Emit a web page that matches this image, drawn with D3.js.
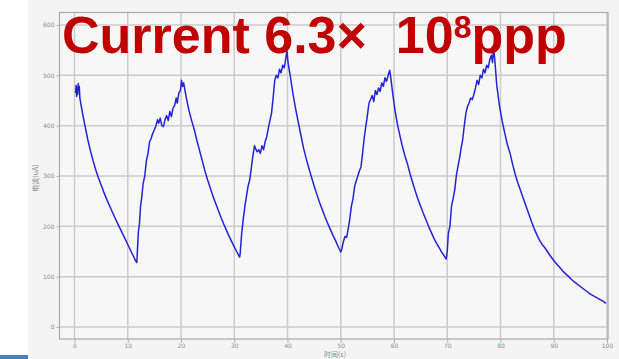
<!DOCTYPE html>
<html>
<head>
<meta charset="utf-8">
<script src="https://cdn.jsdelivr.net/npm/d3@7"></script>
<style>
  html, body { margin: 0; padding: 0; background: #ffffff; }
  svg { display: block; }
</style>
</head>
<body>
<svg id="chart" width="619" height="359"></svg>
<script>
// Axis ticks
const xTicks = [0, 10, 20, 30, 40, 50, 60, 70, 80, 90, 100];
const yTicks = [0, 100, 200, 300, 400, 500, 600];

// Recorded current trace: time (s) and current (uA)
const timeS = [
  0.2, 0.3, 0.4, 0.5, 0.6, 0.7, 0.8, 0.9,
  1.0, 1.5, 2.0, 2.5, 3.0, 3.5, 4.0, 4.5, 5.0, 5.5, 6.0, 6.5, 7.0, 7.5, 8.0, 8.5, 9.0, 9.5, 10.0, 10.5, 11.0, 11.5, 11.7,
  12.0, 12.2, 12.4, 12.6, 12.9, 13.2, 13.5, 13.8, 14.1, 14.4, 14.7, 15.0, 15.3, 15.6, 15.8, 16.1, 16.4, 16.7, 17.0, 17.3, 17.6, 17.9, 18.2, 18.5, 18.8, 19.1, 19.3, 19.6, 19.9, 20.1, 20.3, 20.5,
  21.0, 21.5, 22.0, 22.5, 23.0, 23.5, 24.0, 24.5, 25.0, 25.5, 26.0, 26.5, 27.0, 27.5, 28.0, 28.5, 29.0, 29.5, 30.0, 30.5, 31.0,
  31.1, 31.4, 31.7, 32.0, 32.3, 32.6, 32.9, 33.2, 33.5, 33.8, 34.0, 34.3, 34.6, 34.9, 35.2, 35.5, 35.8, 36.1, 36.4, 36.7, 37.0, 37.3, 37.6, 37.9, 38.2, 38.5, 38.8, 39.1, 39.4, 39.7, 39.9, 40.1,
  40.5, 41.0, 41.5, 42.0, 42.5, 43.0, 43.5, 44.0, 44.5, 45.0, 45.5, 46.0, 46.5, 47.0, 47.5, 48.0, 48.5, 49.0, 49.5, 50.0,
  50.2, 50.5, 50.8, 51.1, 51.4, 51.7, 52.0, 52.3, 52.6, 52.9, 53.2, 53.5, 53.8, 54.1, 54.4, 54.7, 55.0, 55.3, 55.6, 55.9, 56.2, 56.5, 56.8, 57.1, 57.4, 57.7, 58.0, 58.3, 58.6, 58.9, 59.2, 59.4,
  59.8, 60.2, 60.6, 61.0, 61.5, 62.0, 62.5, 63.0, 63.5, 64.0, 64.5, 65.0, 65.5, 66.0, 66.5, 67.0, 67.5, 68.0, 68.5, 69.0, 69.5, 69.8,
  70.0, 70.2, 70.5, 70.8, 71.1, 71.4, 71.7, 72.0, 72.3, 72.6, 72.9, 73.2, 73.5, 73.8, 74.1, 74.4, 74.7, 75.0, 75.3, 75.6, 75.9, 76.2, 76.5, 76.8, 77.1, 77.4, 77.7, 78.0, 78.3, 78.5, 78.7, 78.9,
  79.3, 79.8, 80.3, 80.8, 81.3, 81.8, 82.3, 82.8, 83.3, 83.8, 84.3, 84.8, 85.3, 85.8, 86.3, 86.8, 87.3, 87.8, 88.3, 88.8, 89.3, 89.8, 90.3, 90.8, 91.3, 91.8, 92.3, 92.8, 93.3, 93.8, 94.3, 94.8, 95.3, 95.8, 96.3, 96.8, 97.3, 97.8, 98.3, 98.8, 99.3, 99.8
];
const currentUA = [
  465, 480, 458, 476, 462, 484, 470, 478,
  455, 425, 398, 372, 350, 330, 312, 296, 282, 268, 255, 243, 231, 219, 208, 197, 186, 175, 164, 153, 142, 131, 128,
  190, 205, 240, 255, 286, 300, 330, 345, 368, 375, 385, 392, 400, 412, 405, 415, 400, 398, 412, 420, 410, 428, 418, 435, 440, 455, 445, 465, 470, 490, 478, 485,
  455, 430, 410, 392, 370, 350, 330, 310, 292, 276, 260, 246, 232, 218, 205, 193, 181, 170, 159, 149, 139,
  145, 186, 215, 240, 260, 280, 292, 315, 340, 360, 355, 348, 352, 345, 360, 352, 368, 378, 395, 410, 425, 455, 490, 500, 495, 512, 505, 520, 515, 535, 548, 525,
  500, 465, 435, 408, 382, 356, 335, 316, 298, 280, 264, 248, 234, 220, 207, 195, 183, 172, 160, 149,
  155, 170, 180, 178, 195, 215, 240, 255, 279, 290, 300, 310, 318, 345, 375, 398, 420, 445, 452, 460, 448, 470, 462, 475, 468, 485, 478, 495, 488, 500, 510, 495,
  460, 430, 405, 385, 362, 342, 325, 305, 287, 270, 254, 240, 226, 213, 200, 188, 176, 166, 157, 148, 140, 135,
  150, 186, 200, 240, 255, 272, 300, 318, 335, 355, 372, 400, 425, 438, 445, 455, 452, 462, 475, 490, 482, 500, 495, 512, 505, 520, 515, 532, 540, 525, 552, 535,
  480, 440, 410, 385, 362, 345, 322, 302, 285, 270, 255, 240, 225, 210, 196, 184, 173, 164, 158, 150, 142, 135, 128, 122, 116, 110, 105, 100, 95, 90, 86, 82, 78, 74, 70, 66, 63, 60, 57, 54, 51, 47
];

const svg = d3.select("#chart");

// Figure background and the small blue strip in the lower left corner
svg.append("rect").attr("x", 28).attr("y", 0).attr("width", 591).attr("height", 359).attr("fill", "#f4f4f4");
svg.append("rect").attr("x", 0).attr("y", 355).attr("width", 28).attr("height", 4).attr("fill", "#4a7fc1");

// Plot frame in pixels
const frame = { left: 59.5, top: 12.5, right: 608, bottom: 339 };

const x = d3.scaleLinear().domain([0, 100]).range([74.5, 607]);
const y = d3.scaleLinear().domain([0, 600]).range([327, 25]);

svg.append("rect")
  .attr("x", frame.left).attr("y", frame.top)
  .attr("width", frame.right - frame.left).attr("height", frame.bottom - frame.top)
  .attr("fill", "#f7f7f7");

// Grid
const grid = svg.append("g").attr("stroke", "#cbcbcb").attr("stroke-width", 1.5);
grid.selectAll("line.v").data(xTicks).join("line")
  .attr("x1", d => x(d)).attr("x2", d => x(d))
  .attr("y1", frame.top).attr("y2", frame.bottom);
grid.selectAll("line.h").data(yTicks).join("line")
  .attr("x1", frame.left).attr("x2", frame.right)
  .attr("y1", d => y(d)).attr("y2", d => y(d));

// Frame outline
svg.append("rect")
  .attr("x", frame.left).attr("y", frame.top)
  .attr("width", frame.right - frame.left).attr("height", frame.bottom - frame.top)
  .attr("fill", "none").attr("stroke", "#a9a9a9").attr("stroke-width", 1.2);

// Axes
const xAxis = d3.axisBottom(x).tickValues(xTicks).tickSize(4).tickPadding(1);
const yAxis = d3.axisLeft(y).tickValues(yTicks).tickSize(3).tickPadding(2);

const gx = svg.append("g").attr("transform", `translate(0,${frame.bottom})`).call(xAxis);
const gy = svg.append("g").attr("transform", `translate(${frame.left},0)`).call(yAxis);
[gx, gy].forEach(g => {
  g.select(".domain").remove();
  g.selectAll(".tick line").attr("stroke", "#b0b0b0");
  g.selectAll(".tick text")
    .attr("fill", "#8a8a8a")
    .style("font-family", "DejaVu Sans, sans-serif")
    .style("font-size", "6px");
});

// Axis titles
svg.append("text")
  .attr("x", 335).attr("y", 357)
  .attr("text-anchor", "middle")
  .attr("fill", "#888")
  .style("font-family", "Noto Sans CJK SC, sans-serif")
  .style("font-size", "7px")
  .text("时间(s)");

svg.append("text")
  .attr("transform", "translate(38,178) rotate(-90)")
  .attr("text-anchor", "middle")
  .attr("fill", "#888")
  .style("font-family", "Noto Sans CJK SC, sans-serif")
  .style("font-size", "7px")
  .text("电流(uA)");

// Current trace
const pts = timeS.map((t, i) => [t, currentUA[i]]);
svg.append("path")
  .datum(pts)
  .attr("fill", "none")
  .attr("stroke", "#2323d6")
  .attr("stroke-width", 1.5)
  .attr("stroke-linejoin", "round")
  .attr("d", d3.line().x(d => x(d[0])).y(d => y(d[1])));

// Heading
const title = svg.append("text")
  .attr("x", 62).attr("y", 53)
  .attr("fill", "#c00000")
  .style("white-space", "pre")
  .style("font-family", "Liberation Sans, Arial, sans-serif")
  .style("font-weight", "bold")
  .style("font-size", "52px");
title.append("tspan").text("Current 6.3\u00d7\u00a0\u00a010");
title.append("tspan").attr("dy", -15).style("font-size", "32px").text("8");
title.append("tspan").attr("dy", 15).text("ppp");
</script>
</body>
</html>
